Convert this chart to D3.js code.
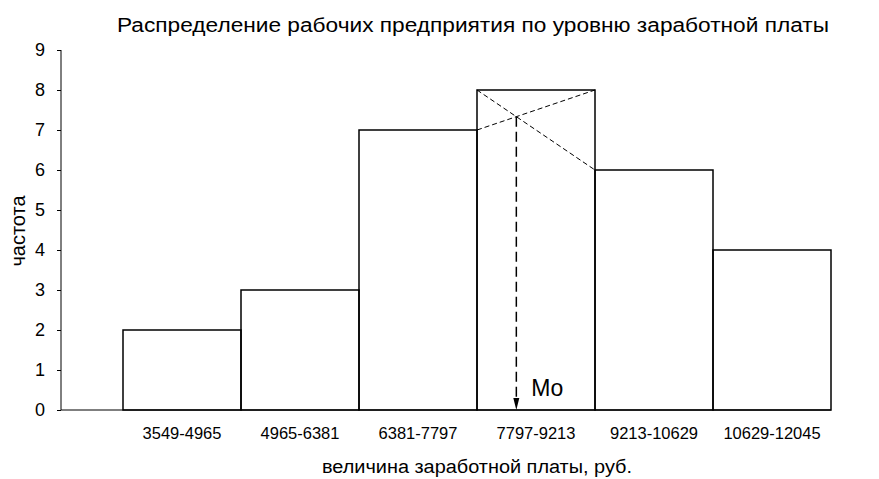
<!DOCTYPE html>
<html><head><meta charset="utf-8">
<script src="https://cdn.jsdelivr.net/npm/d3@7"></script>
<style>body{margin:0;background:#fff}svg{display:block}text{font-family:"Liberation Sans",Arial,sans-serif;fill:#000}</style>
</head><body><svg id="c" width="879" height="479"></svg>
<script>
const categories = ["3549-4965","4965-6381","6381-7797","7797-9213","9213-10629","10629-12045"];
const frequencies = [2,3,7,8,6,4];
const yTicks = [0,1,2,3,4,5,6,7,8,9];
const title = "Распределение рабочих предприятия по уровню заработной платы";
const xTitle = "величина заработной платы, руб.";
const yTitle = "частота";
const modeLabel = "Mо";

const svg = d3.select("#c");
const x0 = 61, xL = 123, xR = 831, yB = 410, yT = 50;
const x = d3.scaleBand().domain(categories).range([xL, xR]).padding(0);
const y = d3.scaleLinear().domain([0, 9]).range([yB, yT]);

// bars
svg.append("g").selectAll("rect").data(frequencies).join("rect")
  .attr("x", (d,i)=>x(categories[i])).attr("y", d=>y(d))
  .attr("width", x.bandwidth()).attr("height", d=>yB - y(d))
  .attr("fill","none").attr("stroke","#000").attr("stroke-width",1.5);

// y axis
const ya = svg.append("g").attr("transform",`translate(${x0},0)`)
  .call(d3.axisLeft(y).tickValues(yTicks).tickSize(4).tickPadding(12).tickFormat(d3.format("d")));
ya.selectAll("text").attr("font-size",18).style("font-family","'Liberation Sans',Arial,sans-serif");
ya.selectAll("line,path").attr("stroke","#000");
ya.select(".domain").attr("d",`M0,${yT}V${yB}`);

// x axis
const xa = svg.append("g").attr("transform",`translate(0,${yB})`)
  .call(d3.axisBottom(x).tickSize(0).tickPadding(17));
xa.selectAll("text").attr("font-size",16.5).style("font-family","'Liberation Sans',Arial,sans-serif");
xa.select(".domain").attr("d",`M${x0},0H${xR}`).attr("stroke","#000").attr("stroke-width",1.2);

// mode construction
const mi = frequencies.indexOf(d3.max(frequencies));
const bl = x(categories[mi]), br = bl + x.bandwidth();
const fM = frequencies[mi], fP = frequencies[mi-1], fN = frequencies[mi+1];
const t = (fM - fP) / ((fM - fP) + (fM - fN));
const ix = bl + t * (br - bl);
const iy = y(fM - t*(fM - fN));
svg.append("line").attr("x1",bl).attr("y1",y(fM)).attr("x2",br).attr("y2",y(fN))
  .attr("stroke","#000").attr("stroke-dasharray","5,3");
svg.append("line").attr("x1",bl).attr("y1",y(fP)).attr("x2",br).attr("y2",y(fM))
  .attr("stroke","#000").attr("stroke-dasharray","5,3");
svg.append("line").attr("x1",ix).attr("y1",iy).attr("x2",ix).attr("y2",yB-10)
  .attr("stroke","#000").attr("stroke-width",1.5).attr("stroke-dasharray","10,5");
svg.append("path").attr("d",`M${ix-3},${yB-12}L${ix+3},${yB-12}L${ix},${yB}Z`).attr("fill","#000");
svg.append("text").attr("x",ix+15).attr("y",396).attr("font-size",23).text(modeLabel);

// titles
svg.append("text").attr("x",473).attr("y",32).attr("text-anchor","middle").attr("font-size",20)
  .attr("textLength",712).attr("lengthAdjust","spacingAndGlyphs").text(title);
svg.append("text").attr("x",477).attr("y",473).attr("text-anchor","middle").attr("font-size",18)
  .attr("textLength",310).attr("lengthAdjust","spacingAndGlyphs").text(xTitle);
svg.append("text").attr("transform","translate(25,231) rotate(-90)").attr("text-anchor","middle").attr("font-size",20).text(yTitle);
</script></body></html>
